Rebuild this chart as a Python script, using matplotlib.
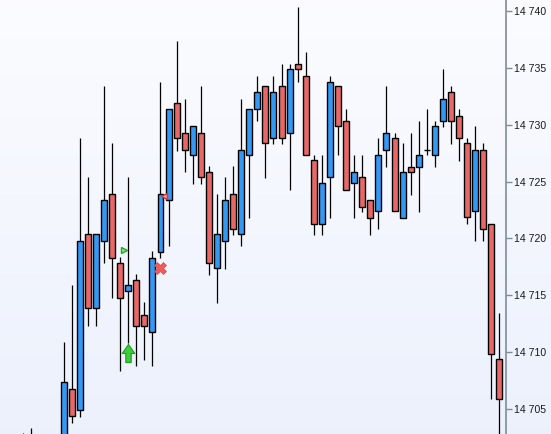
import numpy as np
import matplotlib
matplotlib.use("Agg")
import matplotlib.pyplot as plt
from matplotlib.path import Path
from matplotlib.ticker import FuncFormatter

# Velas (OHLC), de izquierda a derecha
# (las velas 3, 4 y 5 quedan por debajo de la zona visible)
apertura = [14698.0, 14698.0, 14697.0, 14696.0, 14697.0, 14700.0, 14706.8,
            14704.9, 14720.4, 14713.9, 14719.8, 14723.9, 14717.8, 14715.35,
            14716.3, 14713.3, 14711.8, 14718.8, 14723.4, 14731.9, 14729.3,
            14727.3, 14729.3, 14725.8, 14717.4, 14719.8, 14723.9, 14720.4,
            14727.3, 14731.4, 14733.4, 14728.8, 14733.4, 14729.3, 14735.3,
            14734.3, 14726.9, 14721.3, 14725.4, 14733.4, 14730.3, 14724.85,
            14725.4, 14723.4, 14722.4, 14727.8, 14728.8, 14721.8, 14726.3,
            14726.3, 14727.8, 14727.3, 14730.3, 14732.85, 14730.8, 14728.4,
            14722.4, 14727.8, 14721.3, 14709.4]
maximo = [14702.9, 14703.3, 14700.5, 14699.5, 14700.5, 14710.9, 14715.9,
          14728.8, 14725.4, 14720.4, 14733.4, 14728.4, 14718.4, 14725.4,
          14716.9, 14714.4, 14718.9, 14733.8, 14731.4, 14737.4, 14732.3,
          14729.9, 14733.4, 14726.4, 14723.9, 14725.4, 14726.4, 14732.3,
          14731.4, 14734.3, 14733.4, 14734.3, 14735.3, 14735.3, 14740.35,
          14736.4, 14727.3, 14727.3, 14734.3, 14733.4, 14731.4, 14727.3,
          14727.3, 14723.4, 14728.8, 14733.4, 14729.3, 14728.4, 14729.3,
          14730.3, 14731.4, 14730.3, 14734.9, 14733.4, 14731.4, 14728.8,
          14729.9, 14728.4, 14721.3, 14713.4]
minimo = [14697.0, 14697.0, 14695.0, 14694.5, 14695.5, 14698.0, 14703.8,
          14704.3, 14712.3, 14712.3, 14717.8, 14714.8, 14708.3, 14710.8,
          14708.8, 14709.3, 14708.8, 14718.3, 14719.3, 14727.7, 14725.8,
          14724.8, 14724.8, 14716.8, 14714.3, 14717.3, 14720.3, 14719.3,
          14721.8, 14730.3, 14725.3, 14728.3, 14728.3, 14724.3, 14733.8,
          14727.3, 14720.3, 14720.3, 14721.8, 14727.3, 14724.3, 14721.8,
          14722.3, 14720.3, 14720.8, 14726.3, 14722.4, 14721.8, 14723.8,
          14722.3, 14727.3, 14726.3, 14729.8, 14728.3, 14726.8, 14721.3,
          14719.8, 14719.8, 14705.85, 14702.0]
cierre = [14702.0, 14702.5, 14696.0, 14697.0, 14700.0, 14707.35, 14704.4,
          14719.8, 14713.9, 14720.4, 14723.4, 14718.3, 14714.8, 14715.9,
          14712.3, 14712.3, 14718.3, 14723.9, 14731.4, 14728.8, 14727.8,
          14729.9, 14725.4, 14717.8, 14720.4, 14723.4, 14720.8, 14727.8,
          14731.4, 14732.85, 14728.4, 14732.85, 14728.8, 14734.9, 14734.9,
          14727.3, 14721.3, 14724.85, 14733.8, 14729.9, 14724.3, 14725.8,
          14722.8, 14721.8, 14727.3, 14729.3, 14722.4, 14725.8, 14725.8,
          14727.3, 14727.8, 14729.9, 14732.3, 14730.3, 14728.8, 14721.9,
          14727.8, 14720.8, 14709.8, 14705.85]

# Senales dibujadas sobre el grafico (posicion de vela, precio)
flecha_x, flecha_y = [13], [14709.9]
cruz_x, cruz_y = [17], [14717.4]
tri_der_x, tri_der_y = [12.5], [14719.0]
tri_izq_x, tri_izq_y = [17.45], [14723.7]

marcas_y = np.arange(14705, 14741, 5)

azul = "#3399f5"
rojo = "#e86868"

W, H = 551, 434
fig = plt.figure(figsize=(W / 100, H / 100), dpi=100)

# Fondo degradado
fondo = fig.add_axes([0, 0, 1, 1])
grad = np.linspace(0, 1, 256).reshape(-1, 1)
c_arriba = np.array([0.985, 0.988, 1.0])
c_abajo = np.array([0.925, 0.945, 0.99])
img = c_arriba + (c_abajo - c_arriba) * grad[:, :, None]
fondo.imshow(img, aspect="auto", extent=[0, 1, 0, 1], origin="upper")
fondo.axis("off")

ax = fig.add_axes([0, 0, 505.5 / W, 1])
ax.patch.set_alpha(0)

n = len(apertura)
x = np.arange(n)
o = np.array(apertura)
h = np.array(maximo)
l = np.array(minimo)
c = np.array(cierre)
sube = c >= o

# mechas
ax.vlines(x, l, h, color="black", linewidth=0.9, zorder=2)

# cuerpos
ancho = 0.74
abajo = np.minimum(o, c)
alto = np.abs(c - o)
colores = np.where(sube, azul, rojo)
cuerpo = alto > 0.05
ax.bar(x[cuerpo], alto[cuerpo], bottom=abajo[cuerpo], width=ancho,
       color=colores[cuerpo], edgecolor="black", linewidth=1.0, zorder=3)
ax.hlines(o[~cuerpo], x[~cuerpo] - ancho / 2, x[~cuerpo] + ancho / 2,
          color="black", linewidth=1.0, zorder=3)

# senales
flecha = Path([(-0.35, 0), (0, 0.5), (0.35, 0), (0.15, 0), (0.15, -0.5),
               (-0.15, -0.5), (-0.15, 0), (-0.35, 0)],
              [Path.MOVETO] + [Path.LINETO] * 6 + [Path.CLOSEPOLY])
ax.plot(flecha_x, flecha_y, linestyle="none", marker=flecha, markersize=13,
        markerfacecolor="#3ccc3c", markeredgecolor="#1f9e1f", markeredgewidth=0.8, zorder=4)
ax.plot(cruz_x, cruz_y, linestyle="none", marker="X", markersize=9,
        markerfacecolor="#f05a5a", markeredgecolor="#e84848", markeredgewidth=0.5, zorder=4)
ax.plot(tri_der_x, tri_der_y, linestyle="none", marker=">", markersize=5,
        markerfacecolor="#8fe08f", markeredgecolor="#22a822", markeredgewidth=1.0, zorder=4)
ax.plot(tri_izq_x, tri_izq_y, linestyle="none", marker="<", markersize=5,
        markerfacecolor="#f5a0a0", markeredgecolor="#e03030", markeredgewidth=1.0, zorder=4)

# escalas
px_x0, px_paso = 23.3, 8.07
ax.set_xlim(-px_x0 / px_paso, (505.5 - px_x0) / px_paso)
ax.set_ylim(14740 - (H - 11) / 11.371, 14740 + 11 / 11.371)

for lado in ["top", "left", "bottom"]:
    ax.spines[lado].set_visible(False)
ax.spines["right"].set_color("#7f8c9a")
ax.spines["right"].set_linewidth(1.2)
ax.set_xticks([])
ax.yaxis.tick_right()
ax.set_yticks(marcas_y)
ax.yaxis.set_major_formatter(FuncFormatter(lambda v, p: f"{int(v):,}".replace(",", " ")))
ax.tick_params(axis="y", direction="out", length=4, width=1, color="#7f8c9a",
               labelsize=7.6, labelcolor="#1a1a1a", pad=2)
for t in ax.get_yticklabels():
    t.set_fontfamily("Liberation Sans")

fig.savefig("out.png", dpi=100)
